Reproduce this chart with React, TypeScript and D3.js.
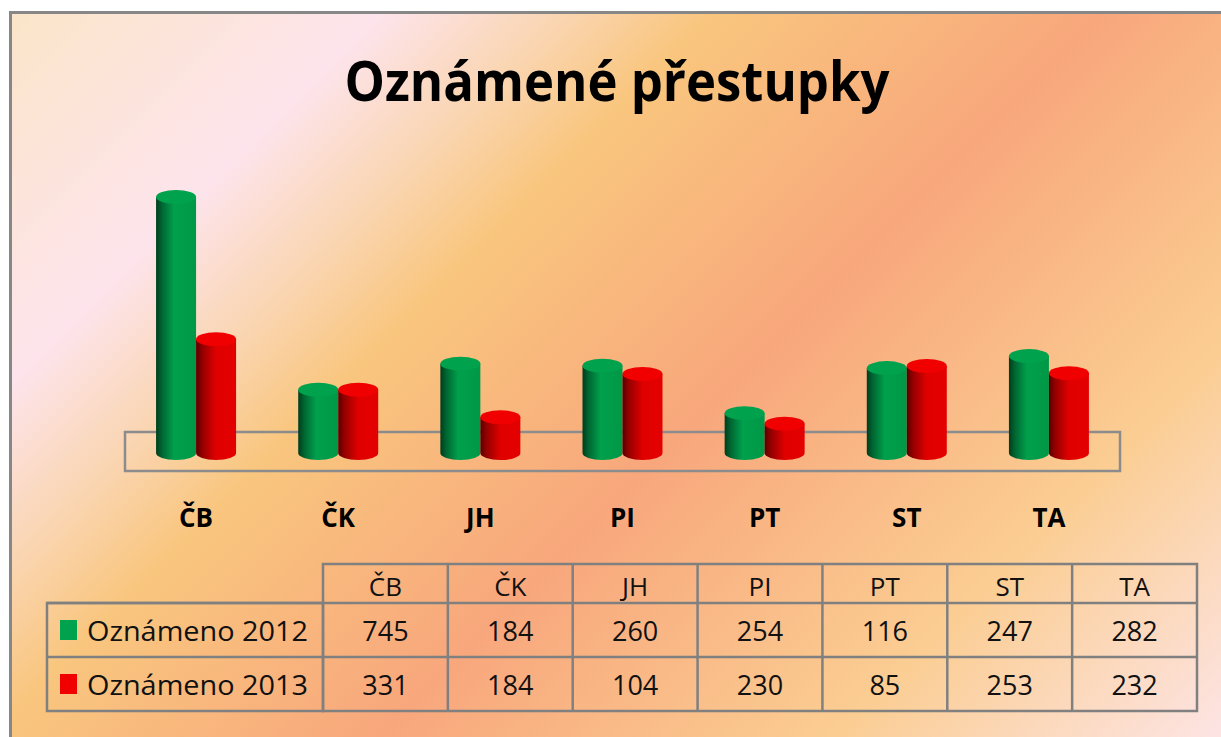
import * as d3 from 'd3';
import React from 'react';

// districts and the two series
const districts = ['ČB', 'ČK', 'JH', 'PI', 'PT', 'ST', 'TA'];
const seriesNames = ['Oznámeno 2012', 'Oznámeno 2013'];
const reported2012 = [745, 184, 260, 254, 116, 247, 282];
const reported2013 = [331, 184, 104, 230, 85, 253, 232];
const seriesColors = ['#00a24e', '#f00000'];

const FONT = '"Open Sans", "Noto Sans", sans-serif';

const App = () => {
  const W = 1221, H = 737;

  // floor / plot geometry
  const x = d3.scaleBand().domain(districts).range([125, 1120]);
  const xs = d3.scaleBand().domain(['0', '1']).range([0, 80]);
  const y = d3.scaleLinear().domain([0, 745]).range([453, 197]);
  const rx = 20, ry = 7;

  // table columns
  const tx = d3.scaleBand().domain(districts).range([323, 1197]);
  const rowTop = [564, 603, 657, 711];

  const series = [reported2012, reported2013];

  const cyl = (cx, yTop, yBase) =>
    `M${cx - rx},${yTop} L${cx - rx},${yBase} A${rx},${ry} 0 0 0 ${cx + rx},${yBase} L${cx + rx},${yTop} Z`;

  return (
    <svg width={W} height={H} style={{ position: 'absolute', left: 0, top: 0, display: 'block' }}>
      <defs>
        <linearGradient id="bg" gradientUnits="userSpaceOnUse" x1="0" y1="0" x2="979" y2="979">
          <stop offset="0" stopColor="#fbe5c6" />
          <stop offset="0.2" stopColor="#fde4ec" />
          <stop offset="0.29" stopColor="#fad6b4" />
          <stop offset="0.37" stopColor="#f9c67e" />
          <stop offset="0.57" stopColor="#f8a77c" />
          <stop offset="0.8" stopColor="#fbcd92" />
          <stop offset="1" stopColor="#fde4e4" />
        </linearGradient>
        <linearGradient id="body0" x1="0" y1="0" x2="1" y2="0">
          <stop offset="0" stopColor="#003d1c" />
          <stop offset="0.15" stopColor="#006632" />
          <stop offset="0.45" stopColor="#00a04c" />
          <stop offset="1" stopColor="#009846" />
        </linearGradient>
        <linearGradient id="body1" x1="0" y1="0" x2="1" y2="0">
          <stop offset="0" stopColor="#580000" />
          <stop offset="0.15" stopColor="#930000" />
          <stop offset="0.5" stopColor="#e00000" />
          <stop offset="1" stopColor="#e40000" />
        </linearGradient>
      </defs>

      {/* chart area */}
      <rect x={10.5} y={12.5} width={1300} height={800} fill="url(#bg)" stroke="#878787" strokeWidth={3} />

      <text x={617} y={101} textAnchor="middle" fontFamily={FONT} fontWeight="bold" fontSize={55}
        textLength={545} lengthAdjust="spacingAndGlyphs" fill="#000">Oznámené přestupky</text>

      {/* floor */}
      <rect x={125} y={432} width={995} height={39} fill="none" stroke="#8c8c8c" strokeWidth={2.5} />

      {/* cylinders */}
      {districts.map((d, i) => (
        <g key={d}>
          {series.map((vals, s) => {
            const cx = x(d) + x.bandwidth() / 2 - 40 + xs(String(s)) + xs.bandwidth() / 2;
            const yTop = y(vals[i]);
            return (
              <g key={s}>
                <path d={cyl(cx, yTop, y(0))} fill={`url(#body${s})`} />
                <ellipse cx={cx} cy={yTop} rx={rx} ry={ry} fill={seriesColors[s]} />
              </g>
            );
          })}
          <text x={x(d) + x.bandwidth() / 2} y={527} textAnchor="middle" fontFamily={FONT}
            fontWeight="bold" fontSize={26} fill="#000">{d}</text>
        </g>
      ))}

      {/* data table */}
      <g stroke="#808080" strokeWidth={2.5} fill="none">
        <rect x={tx.range()[0]} y={rowTop[0]} width={tx.range()[1] - tx.range()[0]} height={rowTop[3] - rowTop[0]} />
        <rect x={47} y={rowTop[1]} width={tx.range()[0] - 47} height={rowTop[3] - rowTop[1]} />
        <line x1={47} x2={tx.range()[1]} y1={rowTop[1]} y2={rowTop[1]} />
        <line x1={47} x2={tx.range()[1]} y1={rowTop[2]} y2={rowTop[2]} />
        {districts.slice(1).map(d => (
          <line key={d} x1={tx(d)} x2={tx(d)} y1={rowTop[0]} y2={rowTop[3]} />
        ))}
      </g>
      {districts.map(d => (
        <text key={d} x={tx(d) + tx.bandwidth() / 2} y={596} textAnchor="middle" fontFamily={FONT}
          fontSize={26} fill="#111">{d}</text>
      ))}
      {series.map((vals, s) => (
        <g key={s}>
          <rect x={60} y={rowTop[s + 1] + 17} width={17} height={20} fill={seriesColors[s]} />
          <text x={87} y={rowTop[s + 1] + 38} fontFamily={FONT} fontSize={27} fill="#111"
            textLength={221} lengthAdjust="spacingAndGlyphs">{seriesNames[s]}</text>
          {vals.map((v, i) => (
            <text key={i} x={tx(districts[i]) + tx.bandwidth() / 2} y={rowTop[s + 1] + 38}
              textAnchor="middle" fontFamily={FONT} fontSize={27} fill="#111">{v}</text>
          ))}
        </g>
      ))}
    </svg>
  );
};

export default App;
